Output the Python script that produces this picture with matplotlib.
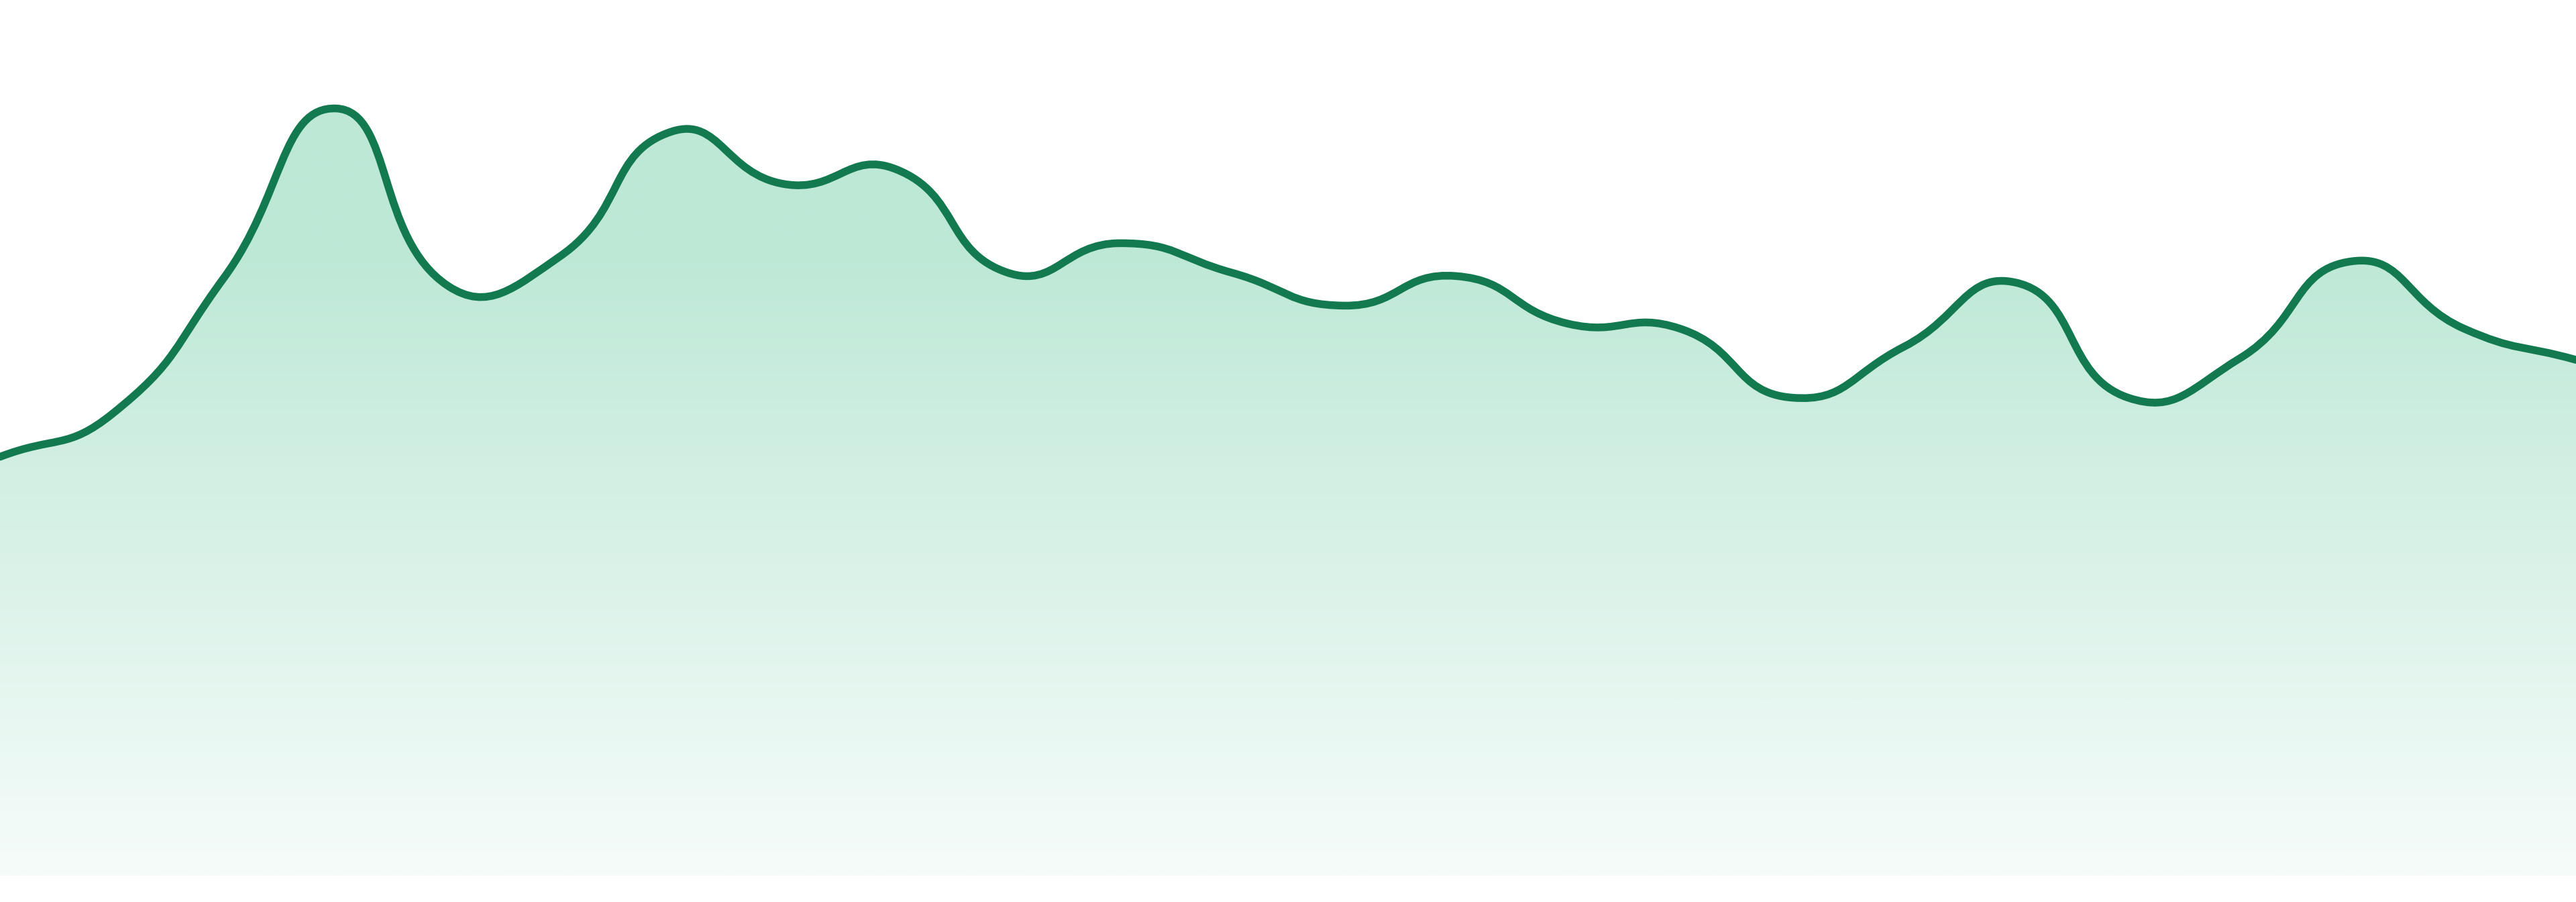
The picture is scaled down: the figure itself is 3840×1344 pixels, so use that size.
import numpy as np
import matplotlib
matplotlib.use("Agg")
import matplotlib.pyplot as plt
from matplotlib.path import Path
from matplotlib.patches import PathPatch
from matplotlib.colors import LinearSegmentedColormap

# Data (24 evenly spaced samples, arbitrary units)
idx = list(range(24))
values = [255, 281, 364, 467, 359, 377, 453, 421, 430, 367, 385, 367,
          347, 365, 336, 333, 291, 322, 361, 291, 315, 374, 333, 314]

line_color = "#13794f"
fill_top = "#bde8d6"
fill_bottom = "#f6fcfa"
y_max = 533


def smooth_verts(xs, ys, x_scale, smooth=0.5):
    # echarts-style bezier smoothing, computed in roughly pixel space
    px = np.asarray(xs, float) * x_scale
    py = np.asarray(ys, float)
    n = len(px)
    cin, cout = [], []
    for i in range(n):
        a = max(i - 1, 0)
        b = min(i + 1, n - 1)
        vx, vy = (px[b] - px[a]) * smooth, (py[b] - py[a]) * smooth
        d0 = np.hypot(px[i] - px[a], py[i] - py[a])
        d1 = np.hypot(px[b] - px[i], py[b] - py[i])
        s = d0 + d1
        if s:
            d0, d1 = d0 / s, d1 / s
        cin.append((px[i] - vx * d0, py[i] - vy * d0))
        cout.append((px[i] + vx * d1, py[i] + vy * d1))
    verts = [(px[0], py[0])]
    codes = [Path.MOVETO]
    for i in range(n - 1):
        verts += [cout[i], cin[i + 1], (px[i + 1], py[i + 1])]
        codes += [Path.CURVE4] * 3
    verts = [(x / x_scale, y) for x, y in verts]
    return verts, codes


fig = plt.figure(figsize=(38.4, 13.44), dpi=100)
ax = fig.add_axes([0, 39 / 1344, 1, 1305 / 1344])
ax.axis("off")

x_scale = 1568 / (len(idx) - 1)
verts, codes = smooth_verts(idx, values, x_scale)

# area under the curve
area_verts = verts + [(idx[-1], 0), (idx[0], 0), verts[0]]
area_codes = codes + [Path.LINETO, Path.LINETO, Path.CLOSEPOLY]
area = PathPatch(Path(area_verts, area_codes), facecolor="none", edgecolor="none")
ax.add_patch(area)

cmap = LinearSegmentedColormap.from_list(
    "fade", [(0, fill_bottom), (0.72, fill_top), (1, fill_top)])
grad = np.linspace(0, 1, 512).reshape(-1, 1)
im = ax.imshow(grad, cmap=cmap, origin="lower", aspect="auto",
               extent=[idx[0], idx[-1], 0, y_max], zorder=1)
im.set_clip_path(area)

line = PathPatch(Path(verts, codes), facecolor="none", edgecolor=line_color,
                 linewidth=8.3, capstyle="round", joinstyle="round", zorder=3)
ax.add_patch(line)

ax.set_xlim(0, len(idx) - 1)
ax.set_ylim(0, y_max)

fig.savefig("out.png", dpi=100, facecolor="white")
